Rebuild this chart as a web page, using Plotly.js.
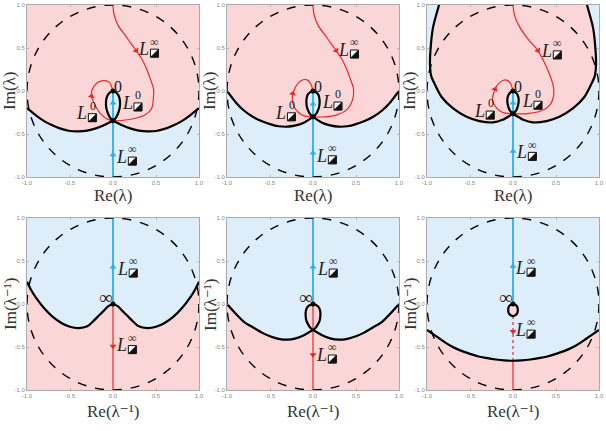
<!DOCTYPE html>
<html><head><meta charset="utf-8">
<script src="https://cdn.plot.ly/plotly-3.0.1.min.js"></script>
<style>html,body{margin:0;padding:0;background:#fff}</style>
</head><body><div id="chart" style="width:606px;height:431px"></div>
<script>
// ---------- DATA ----------
const tickVals = [-1, -0.5, 0, 0.5, 1];
const tickText = ['-1.0', '-0.5', '0.0', '0.5', '1.0'];
const unitRadius = 1;
const xTitles = ['Re(λ)', 'Re(λ⁻¹)'];
const yTitles = ['Im(λ)', 'Im(λ⁻¹)'];

// Panel 1 (top-left)
const p1BoundX = [-1,-0.9,-0.8,-0.7,-0.6,-0.5,-0.4,-0.3,-0.2,-0.1,0,0.1,0.2,0.3,0.4,0.5,0.6,0.7,0.8,0.9,1];
const p1BoundY = [-0.20,-0.28,-0.35,-0.40,-0.44,-0.465,-0.47,-0.46,-0.435,-0.395,-0.345,-0.395,-0.435,-0.46,-0.47,-0.465,-0.44,-0.40,-0.35,-0.28,-0.20];
const p1LoopX = [0,0.035,0.06,0.077,0.082,0.075,0.055,0.03,0,-0.03,-0.055,-0.075,-0.082,-0.077,-0.06,-0.035,0];
const p1LoopY = [0,-0.015,-0.045,-0.09,-0.15,-0.21,-0.27,-0.315,-0.345,-0.315,-0.27,-0.21,-0.15,-0.09,-0.045,-0.015,0];
const p1RedX = [0,0.01,0.06,0.14,0.21,0.27,0.33,0.39,0.43,0.47,0.47,0.45,0.37,0.25,0.12,0,-0.06,-0.13,-0.19,-0.23,-0.25,-0.24,-0.19,-0.115,-0.04,-0.01,0];
const p1RedY = [1,0.9,0.76,0.65,0.55,0.47,0.38,0.26,0.15,0.03,-0.085,-0.2,-0.28,-0.32,-0.34,-0.345,-0.33,-0.28,-0.20,-0.12,-0.06,0.02,0.09,0.12,0.10,0.03,0];
const p1BlueX = [0, 0];
const p1BlueY = [-1, 0];
const p1RedArrowX = [0.27, -0.25], p1RedArrowY = [0.47, -0.06], p1RedArrowAng = [148, 10];
const p1BlueArrowX = [0, 0], p1BlueArrowY = [-0.74, -0.14], p1BlueArrowAng = [0, 0];
const p1DotX = [0, 0], p1DotY = [0, -0.345];
const p1LabelX = [0.357, -0.365, 0.165, 0.10], p1LabelY = [0.49, -0.26, -0.135, -0.765], p1LabelSup = ['∞', '0', '0', '∞'];
const p1PointX = [0.055], p1PointY = [0.05], p1PointText = ['0'];

// Panel 2 (top-middle)
const p2BoundX = [-1,-0.9,-0.8,-0.7,-0.6,-0.5,-0.4,-0.3,-0.2,-0.1,0,0.1,0.2,0.3,0.4,0.5,0.6,0.7,0.8,0.9,1];
const p2BoundY = [0,-0.13,-0.23,-0.30,-0.35,-0.385,-0.41,-0.415,-0.40,-0.365,-0.30,-0.365,-0.40,-0.415,-0.41,-0.385,-0.35,-0.30,-0.23,-0.13,0];
const p2LoopX = [0,0.035,0.06,0.073,0.077,0.07,0.05,0.025,0,-0.025,-0.05,-0.07,-0.077,-0.073,-0.06,-0.035,0];
const p2LoopY = [0,-0.015,-0.04,-0.08,-0.13,-0.19,-0.24,-0.28,-0.30,-0.28,-0.24,-0.19,-0.13,-0.08,-0.04,-0.015,0];
const p2RedX = [0,0.01,0.06,0.14,0.21,0.27,0.33,0.39,0.43,0.47,0.46,0.39,0.27,0.14,0,-0.1,-0.17,-0.23,-0.24,-0.23,-0.19,-0.14,-0.07,-0.02,0];
const p2RedY = [1,0.9,0.76,0.65,0.55,0.47,0.38,0.26,0.15,0.03,-0.10,-0.22,-0.28,-0.30,-0.30,-0.29,-0.25,-0.16,-0.065,-0.02,0.07,0.12,0.13,0.07,0];
const p2BlueX = [0, 0];
const p2BlueY = [-1, 0];
const p2RedArrowX = [0.27, -0.235], p2RedArrowY = [0.47, -0.03], p2RedArrowAng = [148, 12];
const p2BlueArrowX = [0, 0], p2BlueArrowY = [-0.72, -0.15], p2BlueArrowAng = [0, 0];
const p2DotX = [0, 0], p2DotY = [0, -0.30];
const p2LabelX = [0.357, -0.376, 0.165, 0.10], p2LabelY = [0.48, -0.25, -0.125, -0.75], p2LabelSup = ['∞', '0', '0', '∞'];
const p2PointX = [0.055], p2PointY = [0.05], p2PointText = ['0'];

// Panel 3 (top-right)
const p3BoundX = [-0.86,-0.93,-0.96,-0.965,-0.95,-0.91,-0.83,-0.70,-0.54,-0.39,-0.23,-0.12,0,0.12,0.23,0.39,0.54,0.70,0.83,0.91,0.95,0.965,0.96,0.93,0.86];
const p3BoundY = [1.0,0.74,0.47,0.30,0.17,0.08,-0.07,-0.20,-0.30,-0.35,-0.365,-0.335,-0.265,-0.335,-0.365,-0.35,-0.30,-0.20,-0.07,0.08,0.17,0.30,0.47,0.74,1.0];
const p3LoopX = [0,0.03,0.05,0.063,0.066,0.06,0.045,0.022,0,-0.022,-0.045,-0.06,-0.066,-0.063,-0.05,-0.03,0];
const p3LoopY = [0,-0.015,-0.04,-0.075,-0.115,-0.16,-0.21,-0.245,-0.265,-0.245,-0.21,-0.16,-0.115,-0.075,-0.04,-0.015,0];
const p3RedX = [0,0.02,0.08,0.17,0.29,0.37,0.43,0.47,0.47,0.43,0.33,0.19,0,-0.12,-0.19,-0.24,-0.22,-0.2,-0.155,-0.085,-0.03,0];
const p3RedY = [1,0.87,0.74,0.61,0.47,0.32,0.18,0.05,-0.065,-0.16,-0.23,-0.26,-0.265,-0.25,-0.20,-0.10,-0.01,0.04,0.10,0.13,0.09,0];
const p3BlueX = [0, 0];
const p3BlueY = [-1, 0];
const p3RedArrowX = [0.29, -0.21], p3RedArrowY = [0.47, 0.02], p3RedArrowAng = [150, 25];
const p3BlueArrowX = [0, 0], p3BlueArrowY = [-0.70, -0.14], p3BlueArrowAng = [0, 0];
const p3DotX = [0, 0], p3DotY = [0, -0.265];
const p3LabelX = [0.39, -0.39, 0.165, 0.10], p3LabelY = [0.47, -0.23, -0.115, -0.71], p3LabelSup = ['∞', '0', '0', '∞'];
const p3PointX = [0.055], p3PointY = [0.05], p3PointText = ['0'];

// Panel 4 (bottom-left)
const p4BoundX = [-1,-0.95,-0.9,-0.8,-0.7,-0.6,-0.5,-0.4,-0.3,-0.23,-0.17,-0.115,-0.058,0,0.058,0.115,0.17,0.23,0.3,0.4,0.5,0.6,0.7,0.8,0.9,0.95,1];
const p4BoundY = [0.26,0.16,0.08,-0.05,-0.15,-0.22,-0.265,-0.28,-0.26,-0.20,-0.14,-0.086,-0.028,0,-0.028,-0.086,-0.14,-0.20,-0.26,-0.28,-0.265,-0.22,-0.15,-0.05,0.08,0.16,0.26];
const p4LoopX = [];
const p4LoopY = [];
const p4RedX = [0, 0];
const p4RedY = [0, -1];
const p4BlueX = [0, 0];
const p4BlueY = [0, 1];
const p4RedArrowX = [0], p4RedArrowY = [-0.49], p4RedArrowAng = [180];
const p4BlueArrowX = [0], p4BlueArrowY = [0.43], p4BlueArrowAng = [0];
const p4DotX = [0], p4DotY = [0];
const p4LabelX = [0.11, 0.10], p4LabelY = [0.41, -0.48], p4LabelSup = ['∞', '∞'];
const p4PointX = [-0.08], p4PointY = [0.07], p4PointText = ['∞'];

// Panel 5 (bottom-middle)
const p5BoundX = [-1,-0.9,-0.8,-0.7,-0.6,-0.5,-0.4,-0.3,-0.2,-0.1,0,0.1,0.2,0.3,0.4,0.5,0.6,0.7,0.8,0.9,1];
const p5BoundY = [0,-0.11,-0.21,-0.27,-0.33,-0.375,-0.405,-0.415,-0.40,-0.36,-0.30,-0.36,-0.40,-0.415,-0.405,-0.375,-0.33,-0.27,-0.21,-0.11,0];
const p5LoopX = [0,0.04,0.068,0.083,0.086,0.078,0.055,0.028,0,-0.028,-0.055,-0.078,-0.086,-0.083,-0.068,-0.04,0];
const p5LoopY = [0,-0.015,-0.04,-0.08,-0.13,-0.19,-0.24,-0.28,-0.30,-0.28,-0.24,-0.19,-0.13,-0.08,-0.04,-0.015,0];
const p5RedX = [0, 0];
const p5RedY = [0, -1];
const p5BlueX = [0, 0];
const p5BlueY = [0, 1];
const p5RedArrowX = [0], p5RedArrowY = [-0.59], p5RedArrowAng = [180];
const p5BlueArrowX = [0], p5BlueArrowY = [0.43], p5BlueArrowAng = [0];
const p5DotX = [0], p5DotY = [0];
const p5LabelX = [0.11, 0.10], p5LabelY = [0.41, -0.59], p5LabelSup = ['∞', '∞'];
const p5PointX = [-0.08], p5PointY = [0.07], p5PointText = ['∞'];

// Panel 6 (bottom-right)
const p6BoundX = [-1,-0.9,-0.8,-0.7,-0.6,-0.5,-0.4,-0.3,-0.2,-0.1,0,0.1,0.2,0.3,0.4,0.5,0.6,0.7,0.8,0.9,1];
const p6BoundY = [-0.30,-0.37,-0.44,-0.50,-0.545,-0.58,-0.61,-0.63,-0.645,-0.655,-0.66,-0.655,-0.645,-0.63,-0.61,-0.58,-0.545,-0.50,-0.44,-0.37,-0.30];
const p6LoopX = [0,0.03,0.05,0.056,0.05,0.03,0,-0.03,-0.05,-0.056,-0.05,-0.03,0];
const p6LoopY = [0,-0.01,-0.035,-0.07,-0.105,-0.13,-0.14,-0.13,-0.105,-0.07,-0.035,-0.01,0];
const p6RedX = [0, 0];
const p6RedY = [-0.66, -1];
const p6RedDotX = [0, 0];
const p6RedDotY = [-0.14, -0.66];
const p6BlueX = [0, 0];
const p6BlueY = [0, 1];
const p6RedArrowX = [0], p6RedArrowY = [-0.32], p6RedArrowAng = [180];
const p6BlueArrowX = [0], p6BlueArrowY = [0.44], p6BlueArrowAng = [0];
const p6DotX = [0], p6DotY = [0];
const p6LabelX = [0.085, 0.085], p6LabelY = [0.42, -0.30], p6LabelSup = ['∞', '∞'];
const p6PointX = [-0.08], p6PointY = [0.07], p6PointText = ['∞'];

// ---------- STYLE ----------
const PINK = 'rgb(250,214,214)';
const BLUE = 'rgb(221,237,249)';
const RED = 'rgb(232,40,45)';
const CYAN = 'rgb(40,176,240)';
const SERIF = 'Liberation Serif, DejaVu Serif, serif';

const xDomains = [[27/606, 199/606], [227/606, 399/606], [427/606, 599/606]];
const yDomains = [[1 - 177/431, 1 - 5/431], [1 - 390/431, 1 - 218/431]];
const xTitlePos = [[113/606, 1 - 195/431], [113/606, 1 - 411/431]];
const yTitlePos = [[10/606, 1 - 91/431], [10/606, 1 - 304/431]];
const colShift = 200/606;

const panels = [
  {b:[p1BoundX,p1BoundY], l:[p1LoopX,p1LoopY], r:[p1RedX,p1RedY], bl:[p1BlueX,p1BlueY], ra:[p1RedArrowX,p1RedArrowY,p1RedArrowAng], ba:[p1BlueArrowX,p1BlueArrowY,p1BlueArrowAng], d:[p1DotX,p1DotY], lab:[p1LabelX,p1LabelY,p1LabelSup], pt:[p1PointX,p1PointY,p1PointText], mode:'topAbove', loopFill:BLUE, cusp:10},
  {b:[p2BoundX,p2BoundY], l:[p2LoopX,p2LoopY], r:[p2RedX,p2RedY], bl:[p2BlueX,p2BlueY], ra:[p2RedArrowX,p2RedArrowY,p2RedArrowAng], ba:[p2BlueArrowX,p2BlueArrowY,p2BlueArrowAng], d:[p2DotX,p2DotY], lab:[p2LabelX,p2LabelY,p2LabelSup], pt:[p2PointX,p2PointY,p2PointText], mode:'topAbove', loopFill:BLUE, cusp:10},
  {b:[p3BoundX,p3BoundY], l:[p3LoopX,p3LoopY], r:[p3RedX,p3RedY], bl:[p3BlueX,p3BlueY], ra:[p3RedArrowX,p3RedArrowY,p3RedArrowAng], ba:[p3BlueArrowX,p3BlueArrowY,p3BlueArrowAng], d:[p3DotX,p3DotY], lab:[p3LabelX,p3LabelY,p3LabelSup], pt:[p3PointX,p3PointY,p3PointText], mode:'inside', loopFill:BLUE, cusp:12},
  {b:[p4BoundX,p4BoundY], l:[p4LoopX,p4LoopY], r:[p4RedX,p4RedY], bl:[p4BlueX,p4BlueY], ra:[p4RedArrowX,p4RedArrowY,p4RedArrowAng], ba:[p4BlueArrowX,p4BlueArrowY,p4BlueArrowAng], d:[p4DotX,p4DotY], lab:[p4LabelX,p4LabelY,p4LabelSup], pt:[p4PointX,p4PointY,p4PointText], mode:'below', loopFill:PINK, cusp:-1},
  {b:[p5BoundX,p5BoundY], l:[p5LoopX,p5LoopY], r:[p5RedX,p5RedY], bl:[p5BlueX,p5BlueY], ra:[p5RedArrowX,p5RedArrowY,p5RedArrowAng], ba:[p5BlueArrowX,p5BlueArrowY,p5BlueArrowAng], d:[p5DotX,p5DotY], lab:[p5LabelX,p5LabelY,p5LabelSup], pt:[p5PointX,p5PointY,p5PointText], mode:'below', loopFill:PINK, cusp:10},
  {b:[p6BoundX,p6BoundY], l:[p6LoopX,p6LoopY], r:[p6RedX,p6RedY], rd:[p6RedDotX,p6RedDotY], bl:[p6BlueX,p6BlueY], ra:[p6RedArrowX,p6RedArrowY,p6RedArrowAng], ba:[p6BlueArrowX,p6BlueArrowY,p6BlueArrowAng], d:[p6DotX,p6DotY], lab:[p6LabelX,p6LabelY,p6LabelSup], pt:[p6PointX,p6PointY,p6PointText], mode:'below', loopFill:PINK, cusp:-1}
];

const traces = [];
const shapes = [];
const annotations = [];
const layout = {
  width: 606, height: 431,
  margin: {l:0, r:0, t:0, b:0},
  paper_bgcolor: 'white', plot_bgcolor: BLUE,
  showlegend: false
};

panels.forEach((p, i) => {
  const n = i + 1;
  const xa = n === 1 ? 'x' : 'x' + n;
  const ya = n === 1 ? 'y' : 'y' + n;
  const row = i < 3 ? 0 : 1;
  const col = i % 3;
  const axCommon = {
    range: [-1, 1], tickvals: tickVals, ticktext: tickText,
    ticks: 'inside', ticklen: 2, tickwidth: 0.6, tickcolor: '#999',
    showline: true, linecolor: '#aaa', linewidth: 1, mirror: 'ticks',
    showgrid: false, zeroline: false, automargin: false, fixedrange: true,
    tickfont: {size: 6, color: '#888', family: 'Liberation Sans, Arial, sans-serif'}
  };
  layout['xaxis' + (n === 1 ? '' : n)] = Object.assign({}, axCommon, {domain: xDomains[col], anchor: ya});
  layout['yaxis' + (n === 1 ? '' : n)] = Object.assign({}, axCommon, {domain: yDomains[row], anchor: xa});

  annotations.push({xref: 'paper', yref: 'paper', x: xTitlePos[row][0] + col * colShift, y: xTitlePos[row][1], text: xTitles[row], showarrow: false, font: {family: SERIF, size: 17, color: '#333'}, xanchor: 'center', yanchor: 'middle'});
  annotations.push({xref: 'paper', yref: 'paper', x: yTitlePos[row][0] + col * colShift, y: yTitlePos[row][1], text: yTitles[row], textangle: -90, showarrow: false, font: {family: SERIF, size: 17, color: '#333'}, xanchor: 'center', yanchor: 'middle'});

  const [bx, by] = p.b;
  let fx, fy;
  if (p.mode === 'topAbove') { fx = bx.concat([1, -1]); fy = by.concat([1, 1]); }
  else if (p.mode === 'inside') { fx = bx.slice(); fy = by.slice(); }
  else { fx = bx.concat([1, -1]); fy = by.concat([-1, -1]); }
  traces.push({x: fx, y: fy, xaxis: xa, yaxis: ya, type: 'scatter', mode: 'lines', fill: 'toself', fillcolor: PINK, line: {width: 0, color: PINK}, hoverinfo: 'skip'});
  if (p.l[0].length) {
    traces.push({x: p.l[0], y: p.l[1], xaxis: xa, yaxis: ya, type: 'scatter', mode: 'lines', fill: 'toself', fillcolor: p.loopFill, line: {width: 0}, hoverinfo: 'skip'});
  }
  shapes.push({type: 'circle', xref: xa, yref: ya, x0: -unitRadius, x1: unitRadius, y0: -unitRadius, y1: unitRadius, line: {color: 'black', width: 1.4, dash: 'dash'}, layer: 'above'});
  traces.push({x: p.bl[0], y: p.bl[1], xaxis: xa, yaxis: ya, type: 'scatter', mode: 'lines', line: {color: CYAN, width: 1.8}});
  traces.push({x: p.r[0], y: p.r[1], xaxis: xa, yaxis: ya, type: 'scatter', mode: 'lines', line: {color: RED, width: 1.2, shape: p.r[0].length > 2 ? 'spline' : 'linear', smoothing: 0.8}});
  if (p.rd) traces.push({x: p.rd[0], y: p.rd[1], xaxis: xa, yaxis: ya, type: 'scatter', mode: 'lines', line: {color: RED, width: 1.2, dash: 'dot'}});
  const segs = p.cusp >= 0 ? [[0, p.cusp + 1], [p.cusp, bx.length]] : [[0, bx.length]];
  segs.forEach(s => {
    traces.push({x: bx.slice(s[0], s[1]), y: by.slice(s[0], s[1]), xaxis: xa, yaxis: ya, type: 'scatter', mode: 'lines', line: {color: 'black', width: 2.2, shape: 'spline', smoothing: 0.6}});
  });
  if (p.l[0].length) {
    traces.push({x: p.l[0], y: p.l[1], xaxis: xa, yaxis: ya, type: 'scatter', mode: 'lines', line: {color: 'black', width: 2.2, shape: 'spline', smoothing: 0.8}});
  }
  traces.push({x: p.ra[0], y: p.ra[1], xaxis: xa, yaxis: ya, type: 'scatter', mode: 'markers', marker: {symbol: 'triangle-up', size: 6, color: RED, angle: p.ra[2]}});
  traces.push({x: p.ba[0], y: p.ba[1], xaxis: xa, yaxis: ya, type: 'scatter', mode: 'markers', marker: {symbol: 'triangle-up', size: 6, color: CYAN, angle: p.ba[2]}});
  traces.push({x: p.d[0], y: p.d[1], xaxis: xa, yaxis: ya, type: 'scatter', mode: 'markers', marker: {size: 5, color: 'black'}});
  const [lx, ly, ls] = p.lab;
  lx.forEach((x, k) => {
    annotations.push({xref: xa, yref: ya, x: x, y: ly[k], text: '<i>L</i>', showarrow: false, font: {family: SERIF, size: 18, color: '#222'}, xanchor: 'center', yanchor: 'middle'});
    annotations.push({xref: xa, yref: ya, x: x + 0.13, y: ly[k] + 0.085, text: ls[k], showarrow: false, font: {family: SERIF, size: 12, color: '#222'}, xanchor: 'center', yanchor: 'middle'});
    // half-filled box icon (graphic, pixel-sized around an anchor)
    const ax = x + 0.125, ay = ly[k] - 0.05;
    shapes.push({type: 'path', xref: xa, yref: ya, xsizemode: 'pixel', ysizemode: 'pixel', xanchor: ax, yanchor: ay,
      path: 'M -4 -4 L 4 -4 L 4 4 L -4 4 Z', fillcolor: 'white', line: {color: '#111', width: 1}, layer: 'above'});
    shapes.push({type: 'path', xref: xa, yref: ya, xsizemode: 'pixel', ysizemode: 'pixel', xanchor: ax, yanchor: ay,
      path: 'M 4 4 L 4 -4 L -4 -4 Z', fillcolor: '#111', line: {color: '#111', width: 0.5}, layer: 'above'});
  });
  const [px, py, pt] = p.pt;
  px.forEach((x, k) => {
    annotations.push({xref: xa, yref: ya, x: x, y: py[k], text: pt[k], showarrow: false, font: {family: SERIF, size: pt[k] === '∞' ? 19 : 16, color: '#222'}, xanchor: 'center', yanchor: 'middle'});
  });
});

layout.shapes = shapes;
layout.annotations = annotations;
Plotly.newPlot('chart', traces, layout, {staticPlot: true, displayModeBar: false});
</script>
</body></html>
